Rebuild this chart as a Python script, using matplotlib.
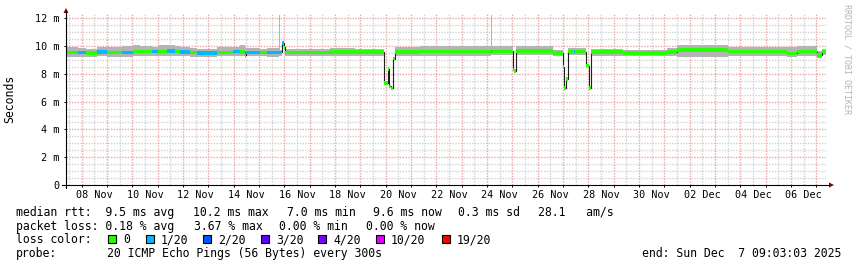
import numpy as np
import matplotlib
matplotlib.use('Agg')
import matplotlib.pyplot as plt
import matplotlib.dates as mdates
from matplotlib.lines import Line2D
from matplotlib.patches import Polygon, Rectangle

# 30 day window, ends Sun Dec 7 09:03:03 2025
t_start = np.datetime64('2025-11-07T09:03:03')
t_end = np.datetime64('2025-12-07T09:03:03')

# each segment starts at seg_day (days after t_start) and holds until the next one
seg_day = [0.00, 0.47, 0.79, 1.22, 1.62, 2.21, 2.65, 2.92, 3.40, 3.63,
           3.99, 4.30, 4.50, 4.90, 5.17, 5.96, 6.60, 6.87, 7.07, 7.11,
           7.66, 7.94, 8.41, 8.45, 8.54, 8.59, 8.63, 10.43, 11.41, 12.57,
           12.71, 12.74, 12.82, 12.90, 12.98, 13.98, 15.17, 16.79, 16.82, 17.63,
           17.69, 17.75, 19.23, 19.62, 19.67, 19.73, 19.81, 20.06, 20.10, 20.54,
           20.63, 20.71, 22.00, 23.74, 24.13, 26.15, 28.48, 28.87, 29.66, 29.86]
# median rtt in ms
median_ms = [9.55, 9.55, 9.52, 9.58, 9.55, 9.55, 9.60, 9.62, 9.62, 9.60,
             9.65, 9.62, 9.58, 9.55, 9.52, 9.55, 9.60, 9.58, 9.35, 9.55,
             9.55, 9.55, 9.55, 9.55, 10.20, 9.90, 9.55, 9.57, 9.57, 7.35,
             8.35, 7.10, 6.95, 9.10, 9.57, 9.62, 9.60, 9.62, 9.62, 8.30,
             8.20, 9.65, 9.52, 8.50, 7.00, 7.65, 9.60, 9.60, 9.60, 8.60,
             7.00, 9.57, 9.52, 9.57, 9.72, 9.60, 9.47, 9.60, 9.35, 9.60]
# loss bucket (index into loss_labels)
loss_idx = [0, 1, 0, 1, 0, 1, 0, 0, 1, 0,
            1, 0, 1, 0, 1, 0, 1, 0, 0, 1,
            0, 1, 1, 1, 1, 0, 0, 0, 0, 0,
            0, 0, 0, 0, 0, 0, 0, 1, 0, 0,
            0, 0, 0, 0, 0, 0, 0, 1, 0, 0,
            0, 0, 0, 0, 0, 0, 0, 0, 0, 0]
# smoke (spread of the 20 pings) in ms
smoke_lo = [9.20, 9.18, 9.22, 9.25, 9.22, 9.20, 9.25, 9.28, 9.25, 9.28,
            9.30, 9.32, 9.25, 9.22, 9.20, 9.25, 9.28, 9.25, 9.15, 9.25,
            9.25, 9.22, 9.28, 9.28, 9.90, 9.70, 9.32, 9.30, 9.30, 7.30,
            8.30, 7.00, 6.90, 9.00, 9.30, 9.32, 9.32, 9.35, 9.35, 8.25,
            8.10, 9.35, 9.30, 8.45, 6.95, 7.60, 9.35, 9.35, 9.35, 8.55,
            6.95, 9.30, 9.28, 9.30, 9.22, 9.28, 9.20, 9.28, 9.15, 9.35]
smoke_hi = [9.90, 9.85, 9.80, 9.95, 9.95, 10.00, 10.05, 10.00, 9.95, 10.05,
            10.05, 10.00, 9.90, 9.85, 9.80, 9.90, 9.95, 10.05, 9.95, 9.85,
            9.80, 9.85, 12.23, 9.75, 10.25, 10.05, 9.80, 9.85, 9.78, 7.45,
            8.40, 7.20, 7.05, 9.20, 9.90, 10.00, 10.00, 12.25, 10.00, 8.40,
            8.30, 10.00, 9.75, 8.60, 7.10, 7.70, 9.85, 9.85, 9.85, 8.65,
            7.05, 9.78, 9.75, 9.85, 10.05, 9.95, 9.90, 10.00, 9.65, 9.80]

loss_labels = ['0', '1/20', '2/20', '3/20', '4/20', '10/20', '19/20']
loss_colors = ['#26ff00', '#00b8ff', '#0059ff', '#5e00ff', '#7e00ff', '#dd00ff', '#ff0000']

stats_rtt = ['median rtt:  9.5 ms avg', '10.2 ms max', '7.0 ms min',
             '9.6 ms now', '0.3 ms sd', '28.1   am/s']
stats_loss = ['packet loss: 0.18 % avg', '3.67 % max', '0.00 % min', '0.00 % now']
probe_txt = '20 ICMP Echo Pings (56 Bytes) every 300s'
end_txt = 'end: Sun Dec  7 09:03:03 2025'

plt.rcParams['font.family'] = ['DejaVu Sans Mono']

W, H = 857, 267
fig = plt.figure(figsize=(W / 100, H / 100), dpi=100)
fig.patch.set_facecolor('white')

def fx(x):
    return x / W

def fy(y):
    return 1 - y / H

ax = fig.add_axes([fx(66), fy(185), fx(826) - fx(66), fy(13) - fy(185)])
ax.set_facecolor('white')
for s in ax.spines.values():
    s.set_visible(False)

seg_t = t_start + (np.array(seg_day) * 86400).astype('timedelta64[s]')
x0 = mdates.date2num(seg_t)
x_start = mdates.date2num(t_start)
x_end = mdates.date2num(t_end)
x_edge = np.append(x0, x_end)
med = np.array(median_ms)
lo = np.array(smoke_lo)
hi = np.array(smoke_hi)
loss = np.array(loss_idx)

# grid: midnight / noon, 2 ms / 0.5 ms (dotted, drawn by hand under the data)
days = np.arange(np.datetime64('2025-11-08'), np.datetime64('2025-12-08'), np.timedelta64(1, 'D'))
noons = np.arange(np.datetime64('2025-11-07T12:00'), np.datetime64('2025-12-07T12:00'), np.timedelta64(1, 'D'))
y_major = np.arange(2, 13, 2)
y_minor = [v for v in np.arange(0.5, 12.4, 0.5) if v % 2 != 0]
dot = (0, (1, 1))
ax.vlines(mdates.date2num(noons), 0, 12.38, colors='#d2d2d2', linestyles=dot, lw=1, zorder=0)
ax.hlines(y_minor, x_start, x_end, colors='#d2d2d2', linestyles=dot, lw=1, zorder=0)
ax.vlines(mdates.date2num(days), 0, 12.38, colors='#eba5a5', linestyles=dot, lw=1, zorder=1)
ax.hlines(y_major, x_start, x_end, colors='#eba5a5', linestyles=dot, lw=1, zorder=1)

# smoke
ax.fill_between(x_edge, np.append(lo, lo[-1]), np.append(hi, hi[-1]),
                step='post', color='#b4b4b4', lw=0, zorder=2)
# median line
ax.step(x_edge, np.append(med, med[-1]), where='post', color='#202020', lw=0.8, zorder=3)
# loss coloured median band
widths = np.diff(x_edge)
ax.bar(x0, 0.26, width=widths, bottom=med - 0.13, align='edge',
       color=[loss_colors[k] for k in loss], lw=0, zorder=4)

ax.set_xlim(x_start, x_end)
ax.set_ylim(0, 12.38)

ax.set_xticks(mdates.date2num(days))
ax.set_xticklabels([])
ax.set_xticks(mdates.date2num(noons), minor=True)
noon_lbls = []
for i, n in enumerate(noons):
    d = n.astype(object)
    noon_lbls.append(d.strftime('%d %b') if i % 2 == 1 else '')
ax.set_xticklabels(noon_lbls, minor=True)

ax.set_yticks(np.arange(0, 13, 2))
ax.set_yticklabels(['0'] + ['%d m' % v for v in range(2, 13, 2)])
ax.set_yticks(np.arange(0, 12.4, 0.5), minor=True)

ax.tick_params(which='both', direction='out', length=1.5, width=0.72, color='black',
               labelsize=7.3)
ax.tick_params(axis='x', which='minor', length=0, pad=3.4)
ax.tick_params(axis='y', which='major', pad=3.0)
ax.tick_params(axis='y', which='minor', length=0)

# axes with arrows
fig.add_artist(Line2D([fx(62), fx(829)], [fy(185), fy(185)], transform=fig.transFigure, color='black', lw=0.8))
fig.add_artist(Line2D([fx(66), fx(66)], [fy(188), fy(11)], transform=fig.transFigure, color='black', lw=0.8))
fig.add_artist(Polygon([[fx(829), fy(182.5)], [fx(834), fy(185)], [fx(829), fy(187.5)]],
                       closed=True, transform=fig.transFigure, color='#7f0000', lw=0))
fig.add_artist(Polygon([[fx(63.5), fy(13)], [fx(66), fy(8)], [fx(68.5), fy(13)]],
                       closed=True, transform=fig.transFigure, color='#7f0000', lw=0))

fig.text(fx(10), fy(99), 'Seconds', rotation=90, ha='center', va='center', fontsize=8.3)
fig.text(fx(846.5), fy(4), 'RRDTOOL / TOBI OETIKER', rotation=270, ha='center', va='top',
         fontsize=6, color='#b4b4b4')

# legend rows
fs = 8.3
row_y = [215.8, 229.6, 243.4, 257.2]
rtt_x = [16, 193.3, 286.7, 372.7, 458.3, 537.7]
for xx, s in zip(rtt_x, stats_rtt):
    fig.text(fx(xx), fy(row_y[0]), s, fontsize=fs, va='baseline')
loss_x = [16, 194, 279.3, 366]
for xx, s in zip(loss_x, stats_loss):
    fig.text(fx(xx), fy(row_y[1]), s, fontsize=fs, va='baseline')

fig.text(fx(16), fy(row_y[2]), 'loss color:', fontsize=fs, va='baseline')
sw_x = [108.3, 145.7, 203.3, 261, 318.3, 375.7, 441.7]
for xx, c, lbl in zip(sw_x, loss_colors, loss_labels):
    fig.add_artist(Rectangle((fx(xx), fy(243)), fx(8), 8 / H, transform=fig.transFigure,
                             facecolor=c, edgecolor='black', lw=0.8))
    fig.text(fx(xx + 15), fy(row_y[2]), lbl, fontsize=fs, va='baseline')

fig.text(fx(16), fy(row_y[3]), 'probe:', fontsize=fs, va='baseline')
fig.text(fx(107), fy(row_y[3]), probe_txt, fontsize=fs, va='baseline')
fig.text(fx(841), fy(row_y[3]), end_txt, fontsize=fs, va='baseline', ha='right')

fig.savefig('out.png', dpi=100, facecolor='white')
